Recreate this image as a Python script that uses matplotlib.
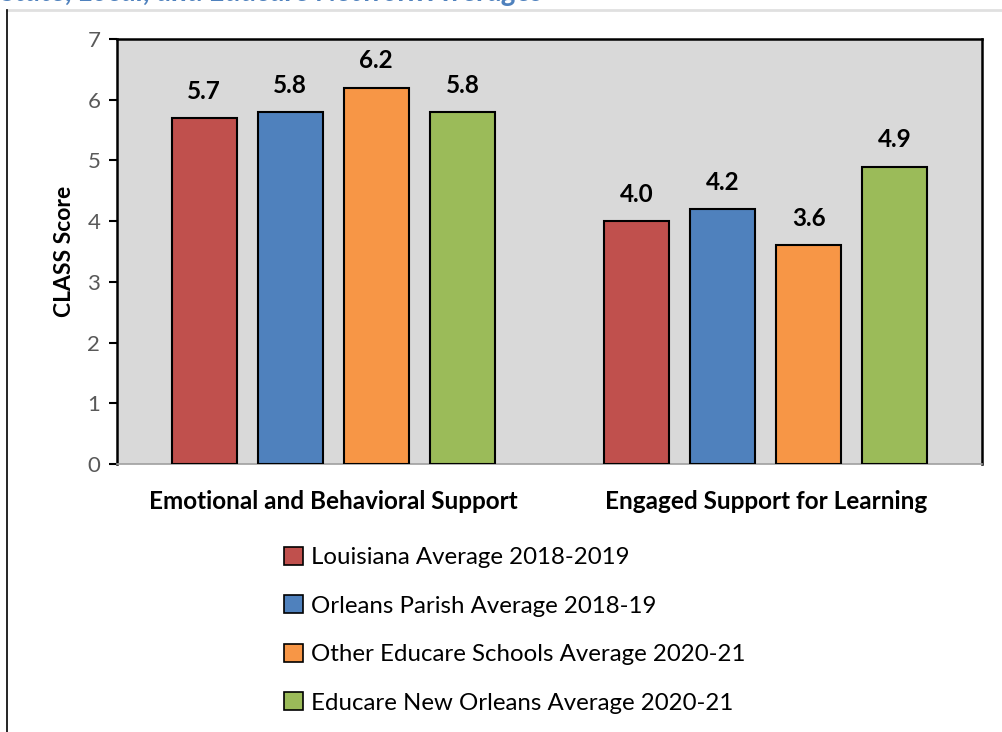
import matplotlib.pyplot as plt
from matplotlib.lines import Line2D
from matplotlib.patches import Patch
import numpy as np

plt.rcParams['font.family'] = ['Lato', 'DejaVu Sans']

# data
categories = ['Emotional and Behavioral Support', 'Engaged Support for Learning']
series = ['Louisiana Average 2018-2019',
          'Orleans Parish Average 2018-19',
          'Other Educare Schools Average 2020-21',
          'Educare New Orleans Average 2020-21']
values = [[5.7, 4.0],
          [5.8, 4.2],
          [6.2, 3.6],
          [5.8, 4.9]]
colors = ['#C0504D', '#4F81BD', '#F79646', '#9BBB59']
title = 'State, Local, and Educare Network Averages'

fig = plt.figure(figsize=(10.03, 7.32), dpi=100)
ax = fig.add_axes([117 / 1003, 1 - 464 / 732, 865 / 1003, 425 / 732])
ax.set_facecolor('#D9D9D9')

x = np.arange(len(categories))
width = 0.15
step = 0.199
for i, (name, vals, c) in enumerate(zip(series, values, colors)):
    pos = x + (i - 1.5) * step
    ax.bar(pos, vals, width, color=c, edgecolor='black', linewidth=1.5,
           label=name, zorder=3)
    for p, v in zip(pos, vals):
        ax.annotate(f'{v:.1f}', (p, v), xytext=(0, 11), textcoords='offset points',
                    ha='center', va='bottom', fontsize=17.5, fontweight='bold')

ax.set_xlim(-0.5, 1.5)
ax.set_ylim(0, 7)
ax.set_yticks(range(8))
ax.tick_params(axis='y', direction='out', length=6, width=1.5, colors='black',
               labelcolor='#595959', labelsize=16, pad=6)
ax.set_xticks(x)
ax.set_xticklabels(categories, fontsize=17.5, fontweight='bold')
ax.tick_params(axis='x', length=0, pad=19)
ax.set_ylabel('CLASS Score', fontsize=16.5, fontweight='bold', labelpad=9)

for s in ['left', 'top', 'right']:
    ax.spines[s].set_color('black')
    ax.spines[s].set_linewidth(1.8)
ax.spines['bottom'].set_color('#A0A0A0')
ax.spines['bottom'].set_linewidth(1.2)

handles = [Patch(facecolor=c, edgecolor='black', linewidth=1.2) for c in colors]
fig.legend(handles, series, loc='upper left', bbox_to_anchor=(274 / 1003, 1 - 537 / 732),
           frameon=False, fontsize=17.3, handlelength=0.8, handleheight=0.8,
           handletextpad=0.35, labelspacing=1.12, borderaxespad=0)

# frame lines and clipped title at the very top
fig.add_artist(Line2D([7 / 1003, 1], [1 - 10 / 732] * 2, color='#E0E0E0', lw=2))
fig.add_artist(Line2D([7 / 1003] * 2, [0, 1 - 10 / 732], color='black', lw=1.2))
fig.text(0.0, 1 - 1 / 732, title, color='#4F81BD', fontsize=21, fontweight='bold',
         style='italic', va='baseline', ha='left')

fig.savefig('out.png', dpi=100)
